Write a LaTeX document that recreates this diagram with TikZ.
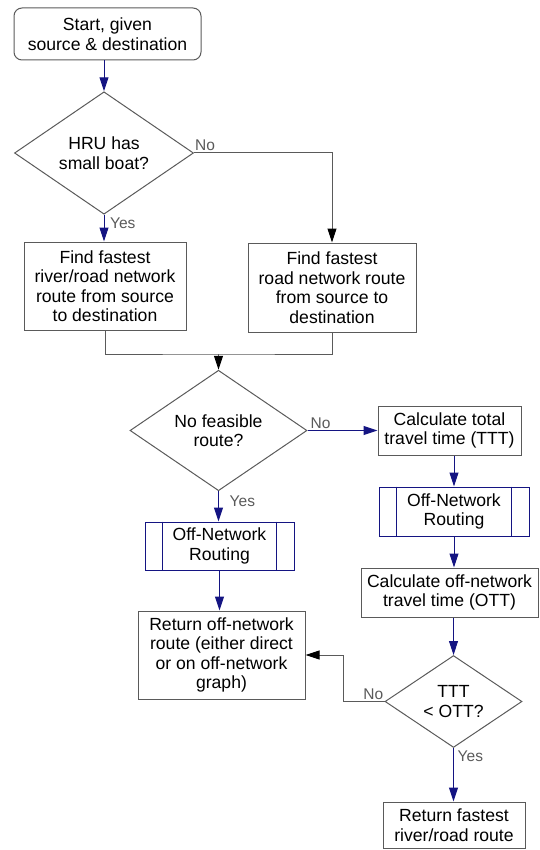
\documentclass[tikz,border=0pt]{standalone}
\usepackage{fontspec}
\setmainfont{Liberation Sans}
\usetikzlibrary{calc,arrows.meta,shapes.geometric}
\definecolor{navyline}{RGB}{20,20,130}
\definecolor{edgegray}{RGB}{90,90,90}
\tikzset{
  every node/.style={font=\fontsize{17.6}{19.5}\selectfont, align=center, inner sep=0pt},
  procbox/.style={draw=edgegray, line width=1pt},
  startbox/.style={procbox, rounded corners=8pt},
  decision/.style={diamond, draw=edgegray, line width=1pt},
  subbox/.style={draw=navyline, line width=1pt},
  flow/.style={navyline, line width=1pt, -{Triangle[length=14pt,width=9pt]}},
  link/.style={edgegray, line width=1pt, -{Triangle[length=14pt,width=9pt,fill=black,color=black]}},
  plain/.style={edgegray, line width=1pt},
  answer/.style={font=\fontsize{15.5}{17}\selectfont, text=edgegray}
}
\def\subrule(#1)(#2){\draw[navyline, line width=1pt] ($(#1.north west)+(#2,0)$) -- ($(#1.south west)+(#2,0)$);
  \draw[navyline, line width=1pt] ($(#1.north east)+(-#2,0)$) -- ($(#1.south east)+(-#2,0)$);}

\begin{document}
\begin{tikzpicture}[x=1pt, y=-1pt]
  %%%%% START %%%%%
  \useasboundingbox (0,0) rectangle (539,850);

  \node[startbox, minimum width=187pt, minimum height=52pt] (start) at (107.5,34) {Start, given\\source \& destination};
  \node[decision, minimum width=179pt, minimum height=101pt] (boat) at (104,153) {HRU has\\small boat?};

  \node[procbox, minimum width=162pt, minimum height=88pt] (riverroad) at (105,286) {Find fastest\\river/road network\\route from source\\to destination};
  \node[procbox, minimum width=168pt, minimum height=89pt] (roadonly) at (332,287.5) {Find fastest\\road network route\\from source to\\destination};

  \node[decision, minimum width=177pt, minimum height=97pt] (feasible) at (218.5,430.5) {No feasible\\route?};
  \node[procbox, minimum width=143pt, minimum height=49pt] (ttt) at (449.5,430.5) {Calculate total\\travel time (TTT)};
  \node[subbox, minimum width=150pt, minimum height=49pt] (offright) at (454,511.5) {Off-Network\\Routing};
  \node[procbox, minimum width=177pt, minimum height=49pt] (ott) at (449.5,592.5) {Calculate off-network\\travel time (OTT)};

  \node[subbox, minimum width=149pt, minimum height=48pt] (offleft) at (219.5,546) {Off-Network\\Routing};
  \node[procbox, minimum width=167pt, minimum height=88pt] (retoff) at (221.5,655) {Return off-network\\route (either direct\\or on off-network\\graph)};

  \node[decision, minimum width=137pt, minimum height=77pt] (compare) at (453.5,701.5) {TTT\\< OTT?};
  \node[procbox, minimum width=142pt, minimum height=46pt] (retfast) at (454,825) {Return fastest\\river/road route};

  \subrule(offright)(18)
  \subrule(offleft)(18)

  % connectors
  \draw[flow] (boat.north |- start.south) -- (boat.north);
  \draw[flow] (boat.south) -- (boat.south |- riverroad.north);
  \draw[link] (boat.east) -| (roadonly.north);

  \coordinate (merge) at (feasible.north |- 0,354);
  \draw[plain] (riverroad.south) |- (merge) -| (roadonly.south);
  \draw[link] (merge) -- (feasible.north);

  \draw[flow] (feasible.east) -- (ttt.west |- feasible.east);
  \draw[flow] (feasible.south) -- (feasible.south |- offleft.north);
  \draw[flow] (offright.north |- ttt.south) -- (offright.north);
  \draw[flow] (offright.south) -- (offright.south |- ott.north);
  \draw[flow] (offleft.south) -- (offleft.south |- retoff.north);
  \draw[flow] (compare.north |- ott.south) -- (compare.north);
  \draw[link] (compare.west) -- ++(-41,0) |- (retoff.east);
  \draw[flow] (compare.south) -- (compare.south |- retfast.north);

  % answers
  \node[answer, anchor=south west] (boatno) at ($(boat.east)+(1,-2)$) {No};
  \node[answer, anchor=north west] (boatyes) at ($(boat.south)+(6,3)$) {Yes};
  \node[answer, anchor=south west] (feasno) at ($(feasible.east)+(3,-2)$) {No};
  \node[answer, anchor=north west] (feasyes) at ($(feasible.south)+(11,4)$) {Yes};
  \node[answer, anchor=south east] (compno) at ($(compare.west)+(-1,-2)$) {No};
  \node[answer, anchor=north west] (compyes) at ($(compare.south)+(4,3)$) {Yes};
  %%%%% END %%%%%
\end{tikzpicture}
\end{document}
